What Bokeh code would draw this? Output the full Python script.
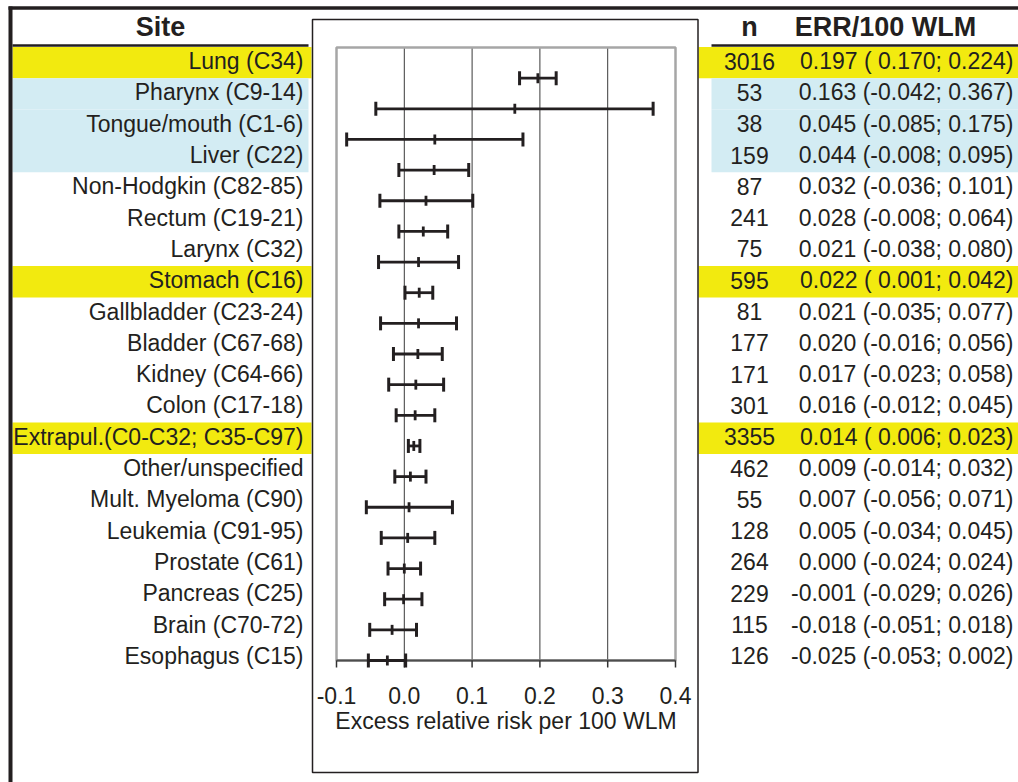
import math
from bokeh.plotting import figure
from bokeh.models import Range1d, ColumnDataSource
from bokeh.core.properties import value
from bokeh.embed import file_html
from bokeh.resources import INLINE

# ---- data -------------------------------------------------------------
sites = [
    "Lung (C34)", "Pharynx (C9-14)", "Tongue/mouth (C1-6)", "Liver (C22)",
    "Non-Hodgkin (C82-85)", "Rectum (C19-21)", "Larynx (C32)", "Stomach (C16)",
    "Gallbladder (C23-24)", "Bladder (C67-68)", "Kidney (C64-66)", "Colon (C17-18)",
    "Extrapul.(C0-C32; C35-C97)", "Other/unspecified", "Mult. Myeloma (C90)",
    "Leukemia (C91-95)", "Prostate (C61)", "Pancreas (C25)", "Brain (C70-72)",
    "Esophagus (C15)",
]
n_cases = [3016, 53, 38, 159, 87, 241, 75, 595, 81, 177, 171, 301, 3355, 462,
           55, 128, 264, 229, 115, 126]
err = [0.197, 0.163, 0.045, 0.044, 0.032, 0.028, 0.021, 0.022, 0.021, 0.020,
       0.017, 0.016, 0.014, 0.009, 0.007, 0.005, 0.000, -0.001, -0.018, -0.025]
ci_low = [0.170, -0.042, -0.085, -0.008, -0.036, -0.008, -0.038, 0.001, -0.035,
          -0.016, -0.023, -0.012, 0.006, -0.014, -0.056, -0.034, -0.024, -0.029,
          -0.051, -0.053]
ci_high = [0.224, 0.367, 0.175, 0.095, 0.101, 0.064, 0.080, 0.042, 0.077, 0.056,
           0.058, 0.045, 0.023, 0.032, 0.071, 0.045, 0.024, 0.026, 0.018, 0.002]
# row grouping used for the shaded bands
group = ["significant", "head", "head", "head", "", "", "", "significant", "",
         "", "", "", "significant", "", "", "", "", "", "", ""]
x_ticks = [-0.1, 0.0, 0.1, 0.2, 0.3, 0.4]
x_label = "Excess relative risk per 100 WLM"
headers = ["Site", "n", "ERR/100 WLM"]

# ---- styling ----------------------------------------------------------
INK = "#231F20"
YELLOW = "#F2EA0F"
BLUE = "#D3ECF3"
FONT = value("Liberation Sans")
W, H = 1018, 782
n_rows = len(sites)

# the canvas works in pixel units; extra ranges hold the ERR scale,
# the forest-plot rows and the table rows
p = figure(width=W, height=H, x_range=Range1d(0, W), y_range=Range1d(H, 0),
           output_backend="svg", toolbar_location=None, min_border=0,
           x_axis_location=None, y_axis_location=None,
           outline_line_color=None, background_fill_color="white",
           border_fill_color="white")
p.xgrid.visible = False
p.ygrid.visible = False

x0_px, x1_px = 336.0, 675.0           # plot frame edges in pixels
xmin, xmax = x_ticks[0], x_ticks[-1]
ppu = (x1_px - x0_px) / (xmax - xmin)  # pixels per ERR unit
p.extra_x_ranges = {"err": Range1d(xmin - x0_px / ppu, xmax + (W - x1_px) / ppu)}

frame_bottom, row_step = 660.0, 30.65
p.extra_y_ranges = {
    "bar": Range1d((frame_bottom - H) / row_step, frame_bottom / row_step),
}
band_top, band_step = 46.5, 31.3
c0 = band_top + band_step * 0.5
p.extra_y_ranges["row"] = Range1d((H - c0) / band_step, -c0 / band_step)

rows = list(range(n_rows))
text_y = [i - 1.5 / band_step for i in rows]   # optical centring of the labels
bar_y = [n_rows - 1 - i for i in rows]
err_txt = [f"{e:.3f} ({lo:6.3f}; {hi:.3f})" for e, lo, hi in zip(err, ci_low, ci_high)]

src = ColumnDataSource(dict(site=sites, n=[str(v) for v in n_cases], err=err,
                            lo=ci_low, hi=ci_high, row=rows, ty=text_y, by=bar_y,
                            err_txt=err_txt, group=group))

# ---- shaded bands -----------------------------------------------------
def bands(kind, left, right, color):
    idx = [i for i in rows if group[i] == kind]
    p.quad(left=left, right=right, top=[i - 0.5 for i in idx],
           bottom=[i + 0.5 for i in idx], fill_color=color, line_color=None,
           y_range_name="row")

bands("significant", 12, 311, YELLOW)
bands("head", 12, 308, BLUE)
bands("significant", 698, W, YELLOW)
bands("head", 711, W, BLUE)

# ---- frame lines of the table ----------------------------------------
p.segment(x0=[8], y0=[7.5], x1=[W], y1=[7.5], line_color=INK, line_width=3.5)
p.segment(x0=[10], y0=[6], x1=[10], y1=[H], line_color=INK, line_width=4)
p.segment(x0=[12, 711], y0=[45, 45], x1=[308, W], y1=[45, 45],
          line_color=INK, line_width=2.5)
p.quad(left=312, right=697.5, top=19, bottom=772, fill_color=None,
       line_color=INK, line_width=1.5)

# ---- forest plot ------------------------------------------------------
grid_ticks = [t for t in x_ticks if xmin < t < xmax]
p.segment(x0=grid_ticks, x1=grid_ticks, y0=[0] * len(grid_ticks),
          y1=[n_rows] * len(grid_ticks), line_color="#3A3A3A", line_width=1,
          x_range_name="err", y_range_name="bar")
p.quad(left=xmin, right=xmax, bottom=0, top=n_rows, fill_color=None,
       line_color="#A6A6A6", line_width=2.5, x_range_name="err", y_range_name="bar")
p.segment(x0=[xmin], x1=[xmax], y0=[0], y1=[0], line_color="#4D4D4D",
          line_width=2, x_range_name="err", y_range_name="bar")
tick_len = 7 / row_step
p.segment(x0=x_ticks, x1=x_ticks, y0=[0] * len(x_ticks),
          y1=[-tick_len] * len(x_ticks), line_color="#333333", line_width=1.5,
          x_range_name="err", y_range_name="bar")

p.segment(x0="lo", x1="hi", y0="by", y1="by", source=src, line_color=INK,
          line_width=2.8, x_range_name="err", y_range_name="bar")
for col in ("lo", "hi"):
    p.dash(x=col, y="by", source=src, size=14, angle=math.pi / 2, line_color=INK,
           line_width=3, x_range_name="err", y_range_name="bar")
p.dash(x="err", y="by", source=src, size=10, angle=math.pi / 2, line_color=INK,
       line_width=2.8, x_range_name="err", y_range_name="bar")

p.text(x=x_ticks, y=[695] * len(x_ticks), text=[f"{t:.1f}" for t in x_ticks],
       text_font=FONT, text_font_size=value("23px"), text_color=INK,
       text_align="center", text_baseline="middle", x_range_name="err")
p.text(x=[(xmin + xmax) / 2], y=[720], text=[x_label], text_font=FONT,
       text_font_size=value("23px"), text_color=INK, text_align="center",
       text_baseline="middle", x_range_name="err")

# ---- table text -------------------------------------------------------
common = dict(source=src, text_font=FONT, text_font_size=value("23px"),
              text_color=INK, text_baseline="middle", y_range_name="row")
p.text(x=303, y="ty", text="site", text_align="right", **common)
p.text(x=749, y="ty", text="n", text_align="center", **common)
p.text(x=1013, y="ty", text="err_txt", text_align="right", **common)

p.text(x=[160, 749, 885], y=[26.5, 26.5, 26.5], text=headers, text_font=FONT,
       text_font_size=value("27px"), text_font_style="bold", text_color=INK,
       text_align="center", text_baseline="middle")

open("out.html", "w").write(file_html(p, INLINE))
